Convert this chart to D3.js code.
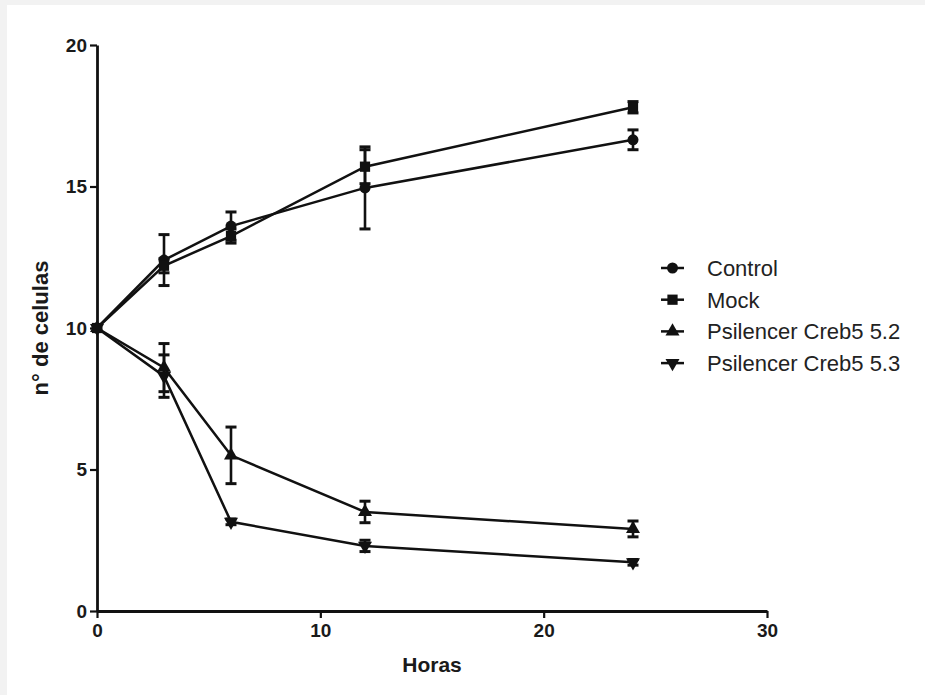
<!DOCTYPE html>
<html>
<head>
<meta charset="utf-8">
<script src="https://cdn.jsdelivr.net/npm/d3@7"></script>
<style>
  html, body { margin: 0; padding: 0; background: #f2f2f2; }
  svg { display: block; }
</style>
</head>
<body>
<svg id="chart" width="925" height="695"></svg>
<script>
// ---- data ----
const hours = [0, 3, 6, 12, 24];
const seriesNames = ["Control", "Mock", "Psilencer Creb5 5.2", "Psilencer Creb5 5.3"];
const controlValues = [10, 12.4, 13.6, 14.95, 16.65];
const controlErrors = [0, 0.9, 0.5, 1.45, 0.35];
const mockValues = [10, 12.2, 13.25, 15.7, 17.8];
const mockErrors = [0, 0.25, 0.25, 0.6, 0.2];
const creb52Values = [10, 8.6, 5.5, 3.5, 2.9];
const creb52Errors = [0, 0.85, 1.0, 0.38, 0.28];
const creb53Values = [10, 8.3, 3.15, 2.3, 1.72];
const creb53Errors = [0, 0.75, 0.1, 0.2, 0.1];
const xTicks = [0, 10, 20, 30];
const yTicks = [0, 5, 10, 15, 20];
const xLabel = "Horas";
const yLabel = "n° de celulas";

const series = [
  { name: seriesNames[0], values: controlValues, errors: controlErrors, symbol: d3.symbolCircle, size: 95 },
  { name: seriesNames[1], values: mockValues, errors: mockErrors, symbol: d3.symbolSquare, size: 105 },
  { name: seriesNames[2], values: creb52Values, errors: creb52Errors, symbol: d3.symbolTriangle, size: 85, rot: 0 },
  { name: seriesNames[3], values: creb53Values, errors: creb53Errors, symbol: d3.symbolTriangle, size: 85, rot: 180 }
];

const svg = d3.select("#chart");
// white panel
svg.append("rect").attr("x", 7).attr("y", 5).attr("width", 925 - 7).attr("height", 695 - 5).attr("fill", "#ffffff");

const x = d3.scaleLinear().domain([0, 30]).range([97, 767]);
const y = d3.scaleLinear().domain([0, 20]).range([611, 45]);

const ink = "#111";
const font = "'Liberation Sans', Arial, sans-serif";

// axes
const xAxis = svg.append("g").attr("transform", `translate(0,${y(0)})`)
  .call(d3.axisBottom(x).tickValues(xTicks).tickSize(7).tickSizeOuter(0).tickPadding(6));
const yAxis = svg.append("g").attr("transform", `translate(${x(0)},0)`)
  .call(d3.axisLeft(y).tickValues(yTicks).tickSize(7).tickSizeOuter(0).tickPadding(3));
[xAxis, yAxis].forEach(g => {
  g.select(".domain").attr("stroke", ink).attr("stroke-width", 2.8);
  g.selectAll(".tick line").attr("stroke", ink).attr("stroke-width", 2.2);
  g.selectAll(".tick text").attr("fill", "#1a1a1a")
    .style("font-family", font)
    .style("font-weight", "bold").style("font-size", "19px");
});

// axis titles
svg.append("text").attr("x", (x(0) + x(30)) / 2).attr("y", 672)
  .attr("text-anchor", "middle")
  .style("font-family", font)
  .style("font-weight", "bold").style("font-size", "21px").attr("fill", "#1a1a1a")
  .text(xLabel);
svg.append("text").attr("transform", `translate(48,${(y(0) + y(20)) / 2}) rotate(-90)`)
  .attr("text-anchor", "middle")
  .style("font-family", font)
  .style("font-weight", "bold").style("font-size", "22px").attr("fill", "#1a1a1a")
  .text(yLabel);

const plot = svg.append("g");
const line = d3.line().x(d => x(d[0])).y(d => y(d[1]));

// lines
series.forEach(s => {
  const pts = hours.map((h, i) => [h, s.values[i]]);
  plot.append("path").datum(pts).attr("d", line)
    .attr("fill", "none").attr("stroke", ink).attr("stroke-width", 2.5);
});

// error bars
series.forEach(s => {
  hours.forEach((h, i) => {
    const e = s.errors[i];
    if (!e) return;
    const cx = x(h), y1 = y(s.values[i] + e), y2 = y(s.values[i] - e);
    const g = plot.append("g").attr("stroke", ink).attr("stroke-width", 2.6);
    g.append("line").attr("x1", cx).attr("x2", cx).attr("y1", y1).attr("y2", y2);
    g.append("line").attr("x1", cx - 5.5).attr("x2", cx + 5.5).attr("y1", y1).attr("y2", y1).attr("stroke-width", 3);
    g.append("line").attr("x1", cx - 5.5).attr("x2", cx + 5.5).attr("y1", y2).attr("y2", y2).attr("stroke-width", 3);
  });
});

// markers
series.forEach(s => {
  const sym = d3.symbol().type(s.symbol).size(s.size);
  hours.forEach((h, i) => {
    plot.append("path").attr("d", sym())
      .attr("transform", `translate(${x(h)},${y(s.values[i])}) rotate(${s.rot || 0})`)
      .attr("fill", ink);
  });
});

// legend
const legend = svg.append("g");
series.forEach((s, i) => {
  const ly = 268 + i * 31.7;
  legend.append("line").attr("x1", 661).attr("x2", 684).attr("y1", ly).attr("y2", ly)
    .attr("stroke", ink).attr("stroke-width", 2.5);
  legend.append("path").attr("d", d3.symbol().type(s.symbol).size(s.size)())
    .attr("transform", `translate(672.5,${ly}) rotate(${s.rot || 0})`).attr("fill", ink);
  legend.append("text").attr("x", 707).attr("y", ly).attr("dy", "0.36em")
    .style("font-family", font)
    .style("font-size", "22px").attr("fill", "#222")
    .text(s.name);
});
</script>
</body>
</html>
